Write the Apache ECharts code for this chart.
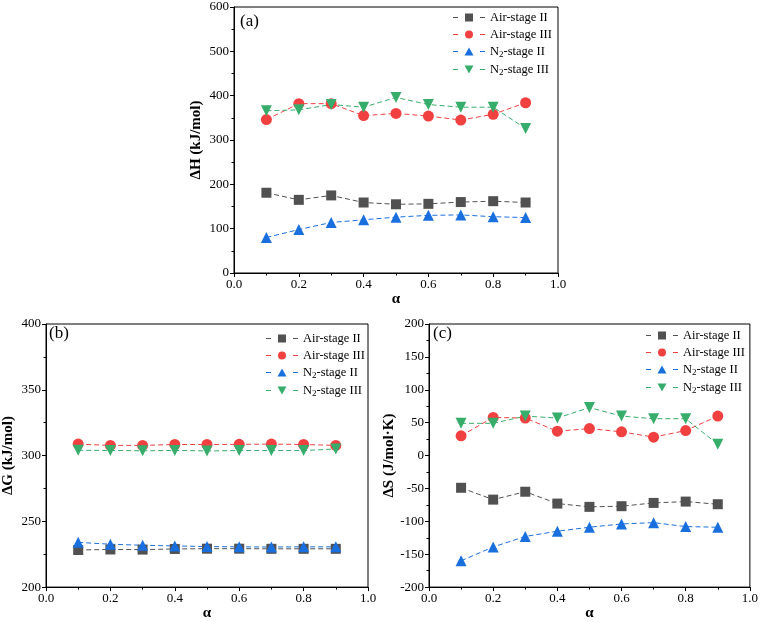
<!DOCTYPE html>
<html><head><meta charset="utf-8">
<script src="https://cdn.jsdelivr.net/npm/echarts@6/dist/echarts.min.js"></script>
<style>html,body{margin:0;padding:0;background:#fff}#c{width:761px;height:622px}</style>
</head><body><div id="c"></div>
<script>
const alpha = [0.1,0.2,0.3,0.4,0.5,0.6,0.7,0.8,0.9];
const seriesNames = ['Air-stage II','Air-stage III','N2-stage II','N2-stage III'];
// (a) ΔH kJ/mol
const dH_air2 = [181,165,175,159,155,156,160,162,159];
const dH_air3 = [346,382,382,355,360,354,345,358,384];
const dH_n2_2 = [80,98,114,120,126,130,131,127,125];
const dH_n2_3 = [366,368,380,374,396,380,374,374,326];
// (b) ΔG kJ/mol
const dG_air2 = [228.2,228.6,228.5,229,229.2,229.2,229.1,229.1,229.1];
const dG_air3 = [308.7,307.7,307.7,308.4,308.4,308.5,308.7,308.4,307.7];
const dG_n2_2 = [234,232.6,231.8,231.3,230.8,230.6,230.5,230.6,230.6];
const dG_n2_3 = [304,303.9,303.6,303.9,303.5,303.8,303.8,303.8,305];
// (c) ΔS J/mol·K
const dS_air2 = [-49,-67,-55,-73,-78,-77,-72,-70,-74];
const dS_air3 = [30,58,57,37,41,36,28,38,60];
const dS_n2_2 = [-160,-139,-123,-115,-109,-104,-102,-108,-109];
const dS_n2_3 = [49,49,60,57,73,60,56,56,17];
const xTicks = {min:0,max:1,interval:0.2};
const yA = {min:0,max:600,interval:100};
const yB = {min:200,max:400,interval:50};
const yC = {min:-200,max:200,interval:50};

const colors = ['#515151','#F14040','#1A6FDF','#37AD6B'];
const symbols = ['rect','circle','triangle','path://M0,0 L10,0 L5,9 Z'];
const sizes = [10,11,11,11];
const font = '"Liberation Serif","Times New Roman",serif';
// legend icons: dash - marker - dash (32 x 8 box)
const dashes = 'M0,3.5 L5,3.5 L5,4.5 L0,4.5 Z M27,3.5 L32,3.5 L32,4.5 L27,4.5 Z ';
const legendIcons = [
  'path://' + dashes + 'M12,0 L20,0 L20,8 L12,8 Z',
  'path://' + dashes + 'M12,4 A4,4 0 1,0 20,4 A4,4 0 1,0 12,4 Z',
  'path://' + dashes + 'M11.5,8 L16,0 L20.5,8 Z',
  'path://' + dashes + 'M11.5,0 L20.5,0 L16,8 Z'
];

const grids = [
  {left:234, top:7, width:324, height:266},
  {left:44, top:324, width:324, height:268},
  {left:429, top:324, width:322, height:267}
];
const yRanges = [yA,yB,yC];
const yNames = ['ΔH (kJ/mol)','ΔG (kJ/mol)','ΔS (J/mol·K)'];
const data = [
  [dH_air2,dH_air3,dH_n2_2,dH_n2_3],
  [dG_air2,dG_air3,dG_n2_2,dG_n2_3],
  [dS_air2,dS_air3,dS_n2_2,dS_n2_3]
];
const axisCommon = {
  axisLine:{show:true,onZero:false,lineStyle:{color:'#000',width:1}},
  axisTick:{show:true,inside:false,length:4,lineStyle:{color:'#000'}},
  minorTick:{show:true,splitNumber:2,length:2.5,lineStyle:{color:'#000'}},
  splitLine:{show:false},
  axisLabel:{color:'#000',fontFamily:font,fontSize:13,margin:5},
  nameTextStyle:{color:'#000',fontFamily:font,fontSize:15,fontWeight:'bold'}
};
const xAxis = grids.map((g,i)=>Object.assign({},axisCommon,{
  type:'value',gridIndex:i,min:xTicks.min,max:xTicks.max,interval:xTicks.interval,
  name:'α',nameLocation:'middle',nameGap:18,
  axisLabel:Object.assign({},axisCommon.axisLabel,{formatter:v=>v.toFixed(1)})
}));
const yAxis = grids.map((g,i)=>Object.assign({},axisCommon,{
  type:'value',gridIndex:i,min:yRanges[i].min,max:yRanges[i].max,interval:yRanges[i].interval,
  name:yNames[i],nameLocation:'middle',nameGap:i===2?32:30
}));
const series = [];
data.forEach((set,gi)=>{
  set.forEach((vals,si)=>{
    series.push({
      type:'line',name:seriesNames[si],xAxisIndex:gi,yAxisIndex:gi,
      data:alpha.map((a,k)=>[a,vals[k]]),
      symbol:symbols[si],symbolSize:sizes[si],
      itemStyle:{color:colors[si]},
      lineStyle:{color:colors[si],width:1,type:[5,3]},
      animation:false
    });
  });
});
const legendPos = [{left:453,top:11},{left:266,top:332},{left:646,top:329}];
const fmt = n => n.startsWith('N2') ? '{t|N}{s|2}{t|'+n.slice(2)+'}' : '{t|'+n+'}';
const legend = legendPos.map(p=>({
  left:p.left, top:p.top, orient:'vertical', itemGap:3, itemWidth:32, itemHeight:8, itemGap:4,
  data:seriesNames.map((n,i)=>({name:n,icon:legendIcons[i],itemStyle:{color:colors[i]}})),
  formatter:fmt, padding:0,
  textStyle:{color:'#000',fontFamily:font,fontSize:12.5,
    rich:{t:{fontFamily:font,fontSize:12.5,color:'#000'},s:{fontFamily:font,fontSize:9,color:'#000',verticalAlign:'bottom',padding:[6,0,0,0]}}}
}));
const panelLabels = [['(a)',240,13],['(b)',49,325],['(c)',433,325]];
const graphic = panelLabels.map(p=>({type:'text',left:p[1],top:p[2],style:{text:p[0],font:'17px '+font,fill:'#000'}}));
const chart = echarts.init(document.getElementById('c'));
chart.setOption({
  animation:false,
  grid:grids.map(g=>Object.assign({show:true,borderColor:'#000',borderWidth:1,backgroundColor:'transparent'},g)),
  xAxis, yAxis, series, legend, graphic
});
</script></body></html>
